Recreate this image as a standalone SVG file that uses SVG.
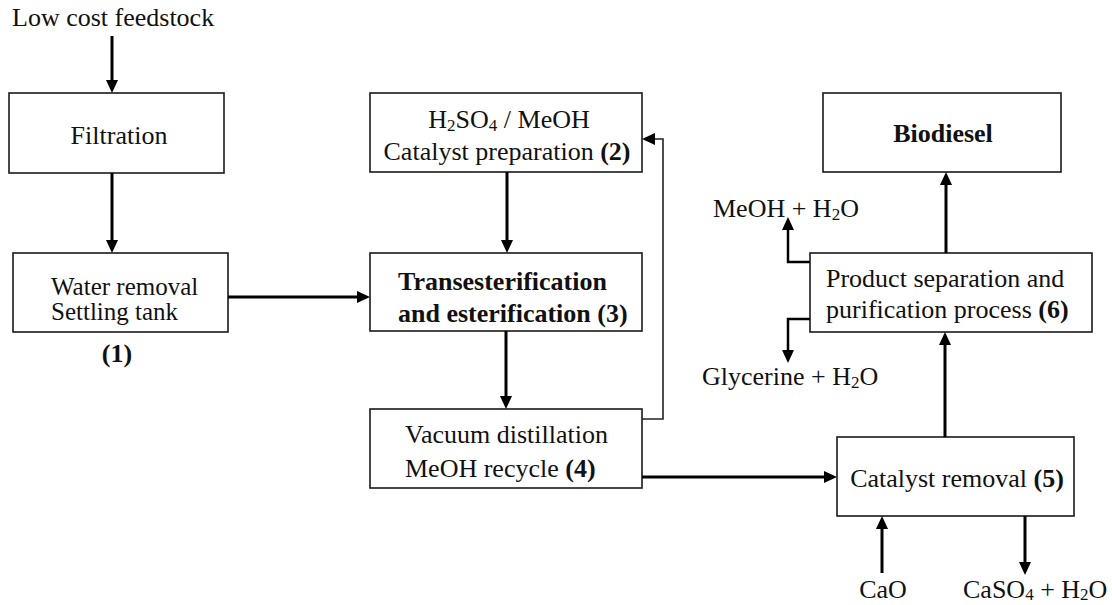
<svg xmlns="http://www.w3.org/2000/svg" width="1112" height="605" viewBox="0 0 1112 605">
<defs>
<style>
.box{fill:#fff;stroke:#1a1a1a;stroke-width:1.6}
text{font-family:'Liberation Serif','Times New Roman',Times,serif;font-size:26px;fill:#111}
.b{font-weight:bold}
.m{text-anchor:middle}
.sub{font-size:17px}
.a{fill:none;stroke:#000;stroke-width:3;marker-end:url(#ah)}
.thin{fill:none;stroke:#222;stroke-width:1.6;marker-end:url(#ah)}
.br{fill:none;stroke:#000;stroke-width:2.5;marker-end:url(#ah)}
</style>
<marker id="ah" markerUnits="userSpaceOnUse" markerWidth="13" markerHeight="12" refX="9" refY="6" orient="auto" viewBox="0 0 13 12">
<path d="M0,0 L13,6 L0,12 Z" fill="#000"/>
</marker>
</defs>
<rect width="1112" height="605" fill="#fff"/>

<g id="feedstock">
<text x="12" y="26">Low cost feedstock</text>
</g>

<g id="filtration">
<rect class="box" x="9" y="93" width="215" height="80"/>
<text class="m" x="119" y="144">Filtration</text>
</g>

<g id="water-removal">
<rect class="box" x="13" y="253" width="215" height="79"/>
<text x="51" y="295" style="font-size:25px">Water removal</text>
<text x="51" y="320" style="font-size:25px">Settling tank</text>
<text class="b m" x="117" y="362">(1)</text>
</g>

<g id="catalyst-preparation">
<rect class="box" x="370" y="93" width="272" height="79"/>
<text class="m" x="509" y="128">H<tspan class="sub" dy="3">2</tspan><tspan dy="-3">SO</tspan><tspan class="sub" dy="3">4</tspan><tspan dy="-3"> / MeOH</tspan></text>
<text class="m" x="507" y="160">Catalyst preparation <tspan class="b">(2)</tspan></text>
</g>

<g id="transesterification">
<rect class="box" x="370" y="253" width="272" height="78"/>
<text class="b" x="398" y="290">Transesterification</text>
<text class="b" x="398" y="322">and esterification (3)</text>
</g>

<g id="vacuum-distillation">
<rect class="box" x="370" y="409" width="272" height="79"/>
<text x="405" y="443">Vacuum distillation</text>
<text x="405" y="477">MeOH recycle <tspan class="b">(4)</tspan></text>
</g>

<g id="catalyst-removal">
<rect class="box" x="837" y="437" width="237" height="79"/>
<text class="m" x="957" y="487">Catalyst removal <tspan class="b">(5)</tspan></text>
</g>

<g id="product-separation">
<rect class="box" x="810" y="253" width="282" height="79"/>
<text x="826" y="287">Product separation and</text>
<text x="826" y="318">purification process <tspan class="b">(6)</tspan></text>
</g>

<g id="biodiesel">
<rect class="box" x="823" y="93" width="238" height="79"/>
<text class="b m" x="943" y="142">Biodiesel</text>
</g>

<g id="labels">
<text x="713" y="217">MeOH + H<tspan class="sub" dy="3">2</tspan><tspan dy="-3">O</tspan></text>
<text x="702" y="385">Glycerine + H<tspan class="sub" dy="3">2</tspan><tspan dy="-3">O</tspan></text>
<text class="m" x="883" y="598">CaO</text>
<text x="963" y="598">CaSO<tspan class="sub" dy="2">4</tspan><tspan dy="-2"> + H</tspan><tspan class="sub" dy="2">2</tspan><tspan dy="-2">O</tspan></text>
</g>

<g id="connectors">
<path class="a" d="M112,36 V89"/>
<path class="a" d="M112,173 V249"/>
<path class="a" d="M228,297 H366"/>
<path class="a" d="M507,172 V249"/>
<path class="a" d="M506,331 V405"/>
<path class="thin" d="M642,419 H663 V139 H646"/>
<path class="a" d="M642,477 H833"/>
<path class="a" d="M945,437 V336"/>
<path class="a" d="M946,253 V176"/>
<path class="br" d="M810,262 H788 V221"/>
<path class="br" d="M810,319 H788 V359"/>
<path class="a" d="M882,573 V520"/>
<path class="a" d="M1025,516 V571"/>
</g>
</svg>
